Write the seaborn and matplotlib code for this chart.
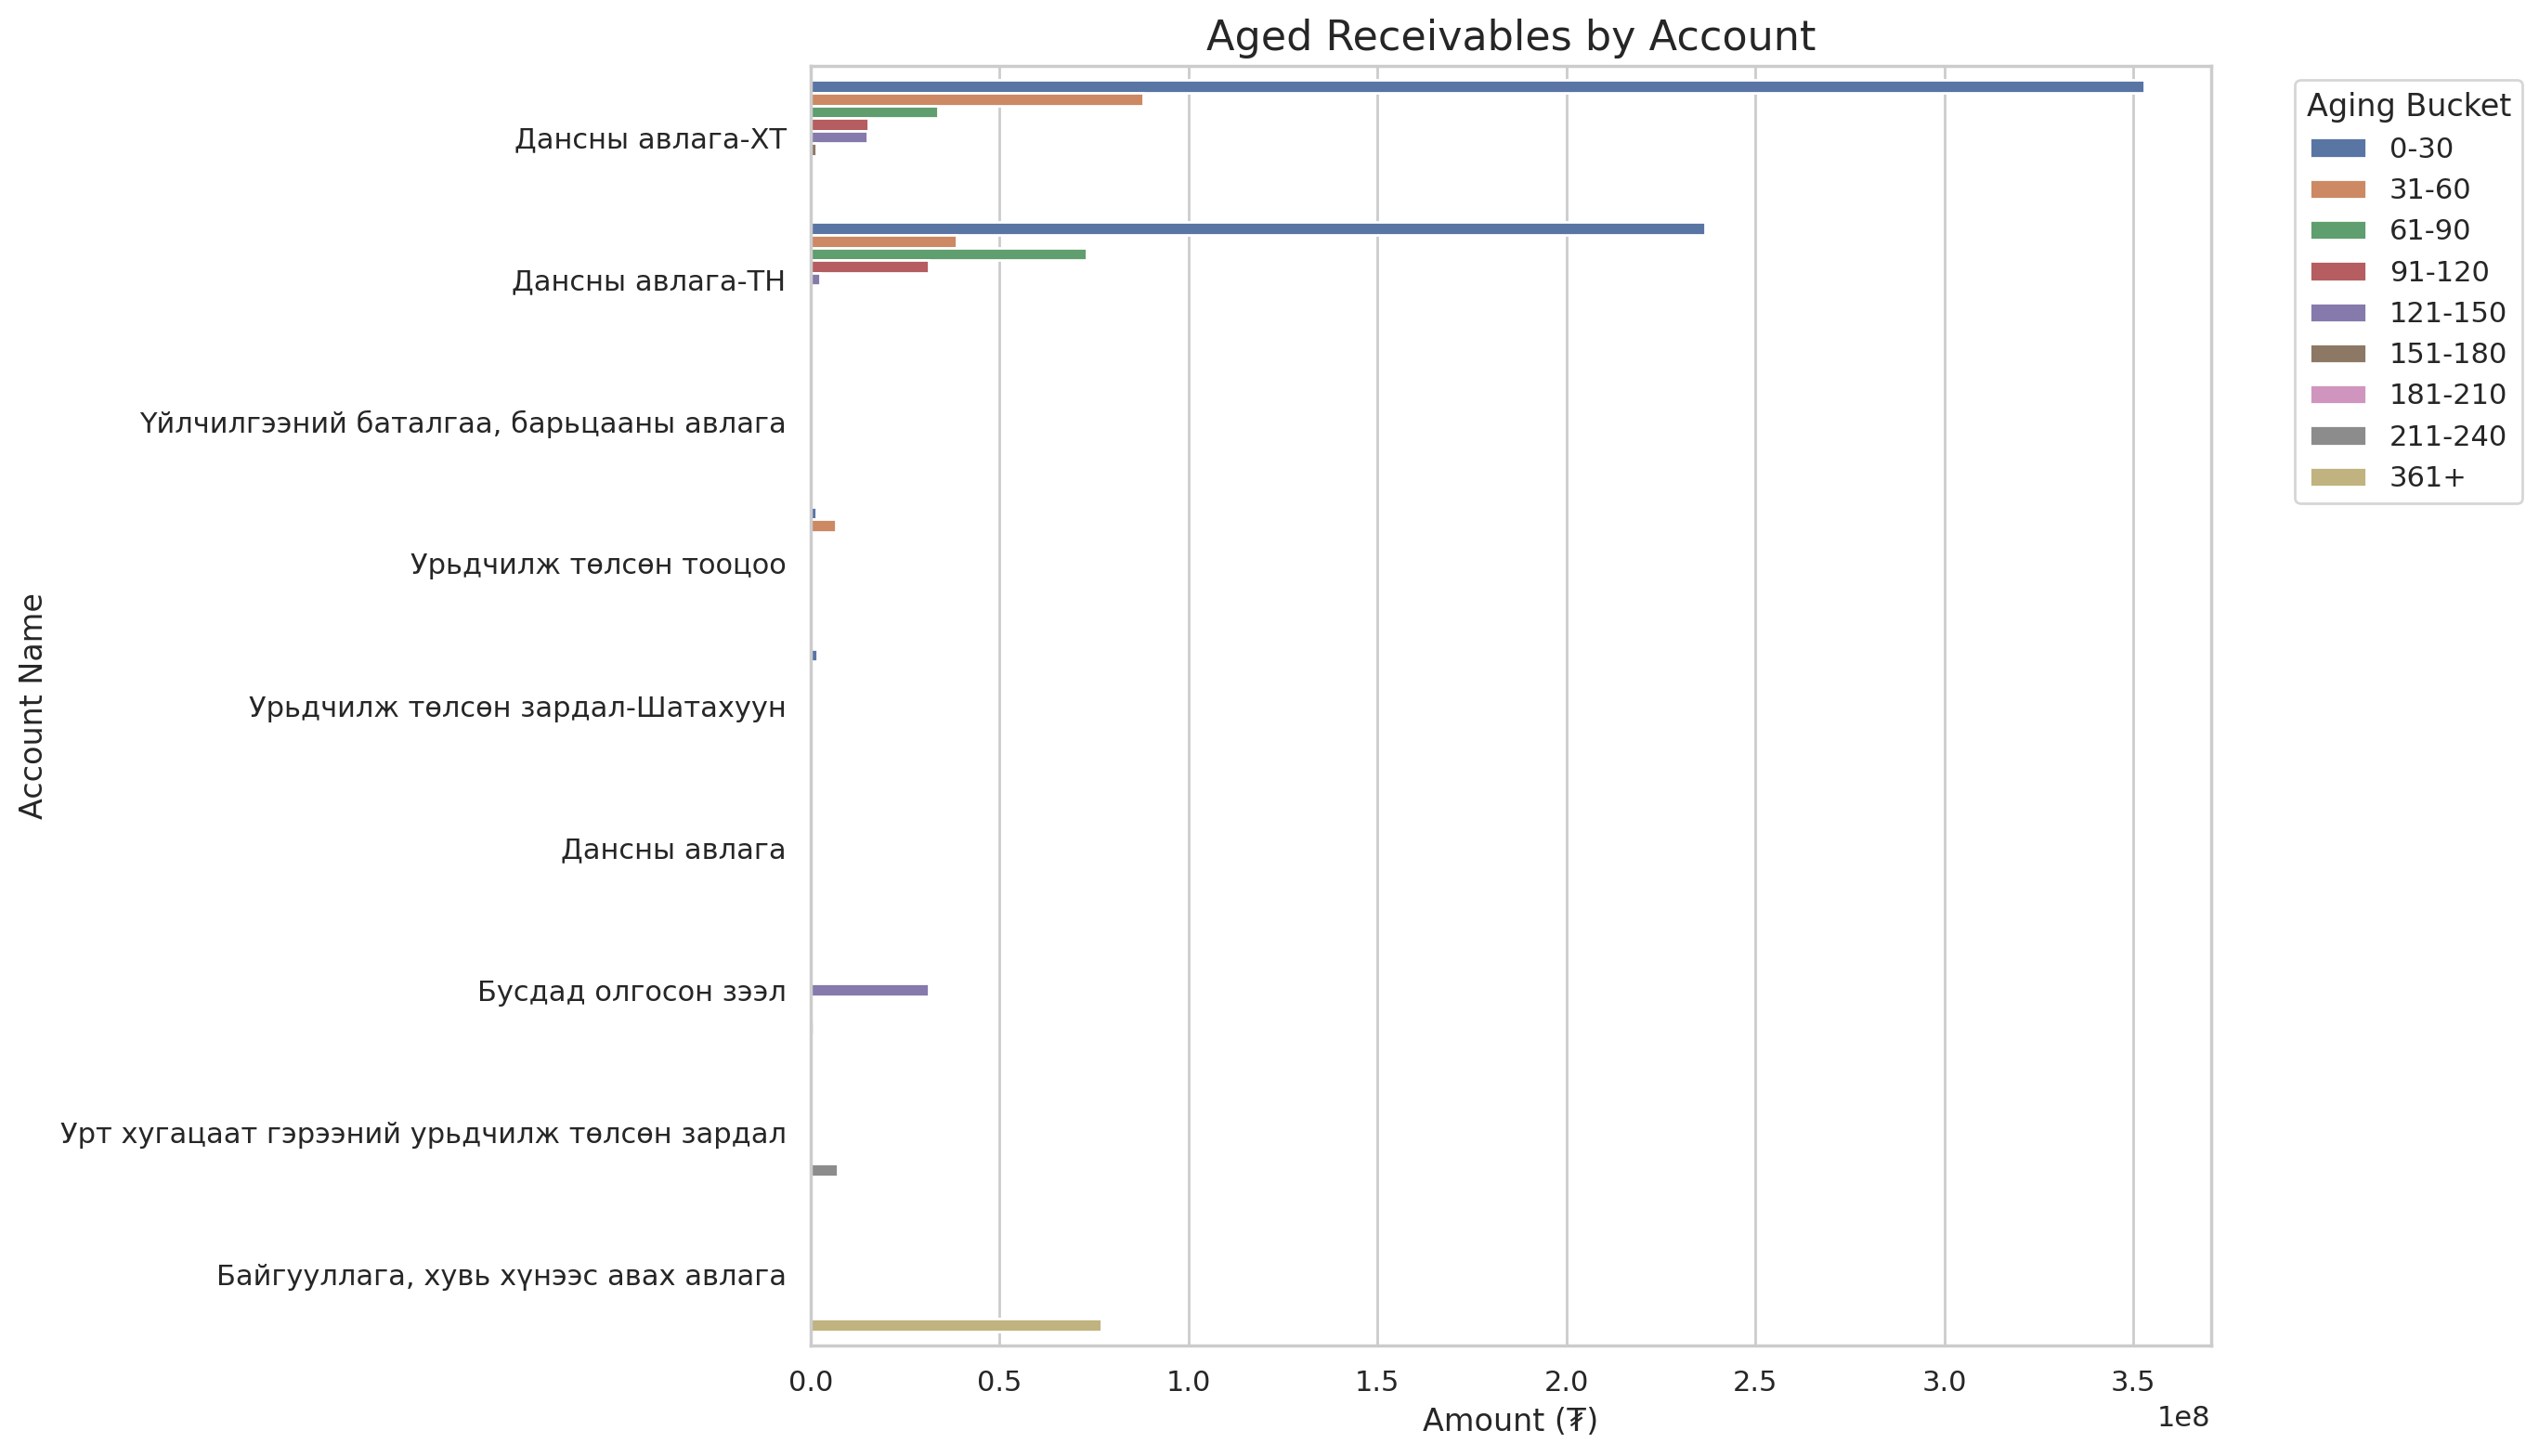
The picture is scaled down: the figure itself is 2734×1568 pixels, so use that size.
import pandas as pd
import matplotlib
matplotlib.use('Agg')
import matplotlib.pyplot as plt
import seaborn as sns

# Account names (y categories) in plotting order
accounts = [
    'Дансны авлага-ХТ',
    'Дансны авлага-ТН',
    'Үйлчилгээний баталгаа, барьцааны авлага',
    'Урьдчилж төлсөн тооцоо',
    'Урьдчилж төлсөн зардал-Шатахуун',
    'Дансны авлага',
    'Бусдад олгосон зээл',
    'Урт хугацаат гэрээний урьдчилж төлсөн зардал',
    'Байгууллага, хувь хүнээс авах авлага',
]

buckets = ['0-30', '31-60', '61-90', '91-120', '121-150',
           '151-180', '181-210', '211-240', '361+']

# Amounts per bucket, one value per account (tugrik)
b_0_30 = [352.9e6, 236.6e6, 0, 1.5e6, 1.7e6, 0, 0, 0, 0]
b_31_60 = [87.9e6, 38.7e6, 0, 6.7e6, 0, 0, 0, 0, 0]
b_61_90 = [33.7e6, 72.9e6, 0, 0, 0, 0, 0, 0, 0]
b_91_120 = [15.2e6, 31.1e6, 0, 0, 0, 0, 0, 0, 0]
b_121_150 = [15.0e6, 2.5e6, 0, 0, 0, 0, 31.3e6, 0, 0]
b_151_180 = [1.6e6, 0, 0, 0, 0, 0, 0, 0, 0]
b_181_210 = [0.5e6, 0, 0, 0, 0, 0, 0, 0.6e6, 0]
b_211_240 = [0, 0, 0, 0, 0, 0, 0.7e6, 7.1e6, 0]
b_361 = [0, 0, 0, 0, 0, 0, 0, 0, 77.0e6]

series = [b_0_30, b_31_60, b_61_90, b_91_120, b_121_150,
          b_151_180, b_181_210, b_211_240, b_361]

rows = []
for bucket, values in zip(buckets, series):
    for acc, val in zip(accounts, values):
        rows.append({'Account Name': acc, 'Aging Bucket': bucket, 'Amount': val})
data = pd.DataFrame(rows)

sns.set_theme(style='whitegrid')
plt.rcParams['font.family'] = ['DejaVu Sans']

fig, ax = plt.subplots(figsize=(13.67, 7.84), dpi=200)
fig.subplots_adjust(left=0.3193, right=0.8708, top=0.9547, bottom=0.0759)

sns.barplot(data=data, x='Amount', y='Account Name', hue='Aging Bucket',
            order=accounts, hue_order=buckets, errorbar=None, ax=ax)

ax.set_title('Aged Receivables by Account', fontsize=16)
ax.set_xlabel('Amount (₮)', fontsize=12)
ax.set_ylabel('Account Name', fontsize=12)
ax.tick_params(axis='both', labelsize=11)
ax.xaxis.get_offset_text().set_fontsize(11)

ax.legend(title='Aging Bucket', bbox_to_anchor=(1.05, 1), loc='upper left',
          fontsize=11, title_fontsize=12)

fig.savefig('out.png', dpi=200)
